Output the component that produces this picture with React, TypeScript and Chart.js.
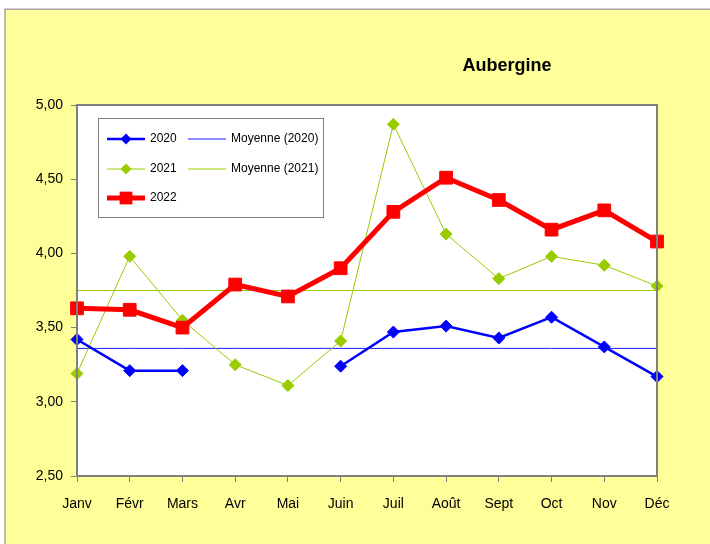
import React, { useEffect, useRef } from "react";
import { Chart, registerables } from "chart.js";

Chart.register(...registerables);

const categories = ["Janv", "Févr", "Mars", "Avr", "Mai", "Juin", "Juil", "Août", "Sept", "Oct", "Nov", "Déc"];
const values2020: (number | null)[] = [3.42, 3.21, 3.21, null, null, 3.24, 3.47, 3.51, 3.43, 3.57, 3.37, 3.17];
const values2021 = [3.19, 3.98, 3.55, 3.25, 3.11, 3.41, 4.87, 4.13, 3.83, 3.98, 3.92, 3.78];
const values2022 = [3.63, 3.62, 3.50, 3.79, 3.71, 3.90, 4.28, 4.51, 4.36, 4.16, 4.29, 4.08];
const mean2020 = 3.36;
const mean2021 = 3.75;
const yTicks = [2.5, 3.0, 3.5, 4.0, 4.5, 5.0];
const title = "Aubergine";

const FONT = "'Liberation Sans', Arial, sans-serif";
const BLUE = "#0000ff";
const GREEN = "#99cc00";
const RED = "#ff0000";

function drawMarker(ctx: CanvasRenderingContext2D, style: string, x: number, y: number, r: number, color: string) {
  ctx.save();
  ctx.fillStyle = color;
  ctx.beginPath();
  if (style === "rect") {
    const s = Math.SQRT1_2 * r;
    ctx.rect(x - s, y - s, 2 * s, 2 * s);
  } else {
    ctx.moveTo(x, y - r);
    ctx.lineTo(x + r, y);
    ctx.lineTo(x, y + r);
    ctx.lineTo(x - r, y);
    ctx.closePath();
  }
  ctx.fill();
  ctx.restore();
}

const framePlugin = {
  id: "frame",
  beforeDraw(chart: any) {
    const { ctx, width, height, chartArea } = chart;
    ctx.save();
    ctx.fillStyle = "#ffffff";
    ctx.fillRect(0, 0, width, height);
    ctx.fillStyle = "#ffff99";
    ctx.fillRect(6, 10, width - 6, height - 10);
    ctx.strokeStyle = "#a8a0a8";
    ctx.lineWidth = 1.5;
    ctx.beginPath();
    ctx.moveTo(5, height);
    ctx.lineTo(5, 9.25);
    ctx.lineTo(width, 9.25);
    ctx.stroke();
    ctx.fillStyle = "#ffffff";
    ctx.fillRect(chartArea.left, chartArea.top, chartArea.right - chartArea.left, chartArea.bottom - chartArea.top);
    // title
    ctx.fillStyle = "#000000";
    ctx.font = `bold 18px ${FONT}`;
    ctx.textAlign = "center";
    ctx.textBaseline = "middle";
    ctx.fillText(title, 507, 66);
    ctx.restore();
  },
  afterDatasetsDraw(chart: any) {
    const { ctx, chartArea } = chart;
    ctx.save();
    ctx.strokeStyle = "#808080";
    ctx.lineWidth = 2;
    ctx.strokeRect(chartArea.left, chartArea.top, chartArea.right - chartArea.left, chartArea.bottom - chartArea.top);
    // legend
    const lx = 98.5, ly = 118.5, lw = 225, lh = 99;
    ctx.fillStyle = "#ffffff";
    ctx.fillRect(lx, ly, lw, lh);
    ctx.strokeStyle = "#808080";
    ctx.lineWidth = 1;
    ctx.strokeRect(lx, ly, lw, lh);
    const ds = chart.data.datasets;
    const slots = [
      { i: 0, x: 107, y: 139 },
      { i: 3, x: 188, y: 139 },
      { i: 1, x: 107, y: 169 },
      { i: 4, x: 188, y: 169 },
      { i: 2, x: 107, y: 198 },
    ];
    ctx.font = `12px ${FONT}`;
    ctx.textBaseline = "middle";
    ctx.textAlign = "left";
    for (const s of slots) {
      const d = ds[s.i];
      ctx.strokeStyle = d.borderColor;
      ctx.lineWidth = d.borderWidth;
      ctx.beginPath();
      ctx.moveTo(s.x, s.y);
      ctx.lineTo(s.x + 38, s.y);
      ctx.stroke();
      if (d.pointRadius > 0) {
        drawMarker(ctx, d.pointStyle, s.x + 19, s.y, d.pointStyle === "rect" ? 9 : 5.5, d.pointBackgroundColor);
      }
      ctx.fillStyle = "#000000";
      ctx.fillText(d.label, s.x + 43, s.y);
    }
    ctx.restore();
  },
};

export default function App() {
  const ref = useRef<HTMLCanvasElement>(null);
  useEffect(() => {
    if (!ref.current) return;
    const chart = new Chart(ref.current, {
      type: "line",
      data: {
        labels: categories,
        datasets: [
          {
            label: "2020",
            data: values2020,
            borderColor: BLUE,
            backgroundColor: BLUE,
            pointBackgroundColor: BLUE,
            pointBorderColor: BLUE,
            borderWidth: 2.5,
            pointStyle: "rectRot",
            pointRadius: 6,
            pointBorderWidth: 1,
            spanGaps: false,
            clip: false,
            order: 1,
          } as any,
          {
            label: "2021",
            data: values2021,
            borderColor: GREEN,
            backgroundColor: GREEN,
            pointBackgroundColor: GREEN,
            pointBorderColor: GREEN,
            borderWidth: 1,
            pointStyle: "rectRot",
            pointRadius: 6,
            pointBorderWidth: 1,
            clip: false,
            order: 2,
          },
          {
            label: "2022",
            data: values2022,
            borderColor: RED,
            backgroundColor: RED,
            pointBackgroundColor: RED,
            pointBorderColor: RED,
            borderWidth: 5,
            pointStyle: "rect",
            pointRadius: 9,
            pointBorderWidth: 1,
            clip: false,
            order: 0,
          },
          {
            label: "Moyenne (2020)",
            data: categories.map(() => mean2020),
            borderColor: "#1a1aff",
            backgroundColor: "#1a1aff",
            pointBackgroundColor: "#1a1aff",
            borderWidth: 1,
            pointRadius: 0,
            order: 3,
          },
          {
            label: "Moyenne (2021)",
            data: categories.map(() => mean2021),
            borderColor: GREEN,
            backgroundColor: GREEN,
            pointBackgroundColor: GREEN,
            borderWidth: 1,
            pointRadius: 0,
            order: 4,
          },
        ],
      },
      options: {
        responsive: false,
        animation: false,
        events: [],
        layout: { padding: { left: 0, top: 105, right: 53, bottom: 0 } },
        elements: { line: { tension: 0 } },
        plugins: {
          legend: { display: false },
          title: { display: false },
          tooltip: { enabled: false },
        },
        scales: {
          x: {
            type: "category",
            offset: false,
            grid: { drawOnChartArea: false, drawTicks: true, tickLength: 6, color: "#808080" },
            border: { display: true, color: "#808080", width: 2 },
            ticks: {
              color: "#000000",
              font: { family: FONT, size: 14 },
              padding: 14,
              maxRotation: 0,
              autoSkip: false,
            },
            afterFit(scale: any) {
              scale.height = 68;
            },
          },
          y: {
            min: 2.5,
            max: 5,
            grid: { drawOnChartArea: false, drawTicks: true, tickLength: 6, color: "#808080" },
            border: { display: true, color: "#808080", width: 2 },
            afterBuildTicks(scale: any) {
              scale.ticks = yTicks.map((v) => ({ value: v }));
            },
            ticks: {
              color: "#000000",
              font: { family: FONT, size: 14 },
              padding: 8,
              callback: (v: any) => Number(v).toFixed(2).replace(".", ","),
            },
            afterFit(scale: any) {
              scale.width = 77;
            },
          },
        },
      },
      plugins: [framePlugin],
    });
    return () => chart.destroy();
  }, []);
  return (
    <div style={{ position: "fixed", left: 0, top: 0, width: 710, height: 544 }}>
      <canvas ref={ref} width={710} height={544} style={{ display: "block" }} />
    </div>
  );
}
